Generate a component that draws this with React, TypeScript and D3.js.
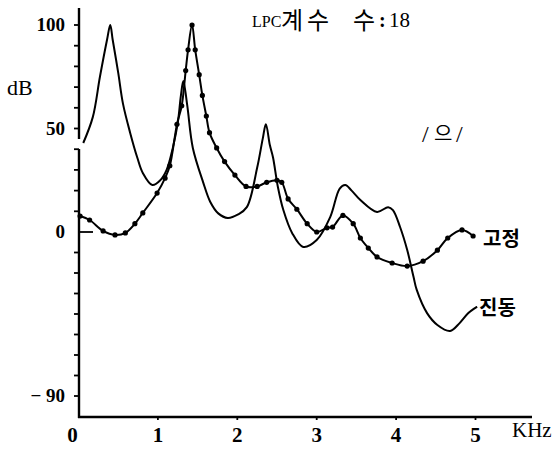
import * as d3 from 'd3'

// frequency (kHz) / level (dB)
const jindongKhz = [0.06, 0.18, 0.27, 0.36, 0.40, 0.43, 0.50, 0.56, 0.65, 0.74, 0.81, 0.93, 1.03, 1.11, 1.19, 1.25, 1.29, 1.32, 1.37, 1.44, 1.57, 1.66, 1.76, 1.88, 2.01, 2.12, 2.25, 2.32, 2.36, 2.41, 2.45, 2.51, 2.58, 2.69, 2.83, 3.00, 3.17, 3.29, 3.36, 3.44, 3.55, 3.76, 3.90, 3.96, 4.05, 4.14, 4.22, 4.26, 4.39, 4.52, 4.68, 4.80, 4.91, 5.02]
const jindongDb = [43, 55.5, 75, 93, 100, 93, 77, 62, 48, 36, 28.5, 22.7, 25, 30, 41, 52.7, 66, 73, 61, 40.6, 24, 14.5, 9, 6.8, 8.5, 12, 31, 45, 52, 42, 36, 22, 10.6, -0.5, -8.2, -4.4, 7.2, 21, 22.7, 20, 15.5, 9.7, 12, 10.6, 2.4, -9.9, -24.7, -31.8, -44.5, -51, -54.3, -50, -44.5, -41]

const gojeongKhz = [0.02, 0.14, 0.31, 0.46, 0.59, 0.71, 0.81, 0.99, 1.09, 1.15, 1.24, 1.30, 1.35, 1.38, 1.43, 1.47, 1.52, 1.56, 1.61, 1.65, 1.74, 1.84, 1.97, 2.11, 2.25, 2.37, 2.50, 2.56, 2.64, 2.75, 2.88, 3.00, 3.13, 3.20, 3.33, 3.46, 3.55, 3.65, 3.76, 3.95, 4.14, 4.34, 4.52, 4.65, 4.83, 4.97]
const gojeongDb = [7.7, 5.8, 0.5, -1.6, -0.5, 4, 9.2, 18.8, 26, 32, 52, 61, 78, 88, 100, 88, 76, 66, 56, 48, 40.6, 34, 27.5, 22, 22, 24, 25, 24, 16, 11, 4, 0, 2, 2.4, 8, 4, -3.3, -8.8, -13.7, -17, -18.7, -16, -10, -3.3, 1, -2.2]

const xTicks = [0, 1, 2, 3, 4, 5]
const yLabelValues = [100, 50, 0, -90]
const yLabelTexts = ['100', '50', '0', '− 90']

const W = 556
const H = 449
const serif = 'Liberation Serif, DejaVu Serif, serif'
const hangul = 'Noto Sans CJK KR, sans-serif'

export default function App() {
  const x = d3.scaleLinear().domain([0, 5]).range([78.5, 475.5])
  // the printed axis is not uniform: 0..100 above, 8 tick steps down to -90
  const y = d3.scaleLinear().domain([-90, 0, 100]).range([396, 232, 25])

  const axisX = 79
  const axisBottom = 417
  const axisRight = 532

  const line = d3.line<[number, number]>()
    .x(d => x(d[0]))
    .y(d => y(d[1]))
    .curve(d3.curveCatmullRom.alpha(0.5))

  const jindong = jindongKhz.map((k, i) => [k, jindongDb[i]] as [number, number])
  const gojeong = gojeongKhz.map((k, i) => [k, gojeongDb[i]] as [number, number])

  const minorUp = d3.range(10, 101, 10)
  const minorDown = d3.range(1, 9).map(i => -i * 90 / 8)

  return (
    <svg width={W} height={H} style={{ position: 'absolute', left: 0, top: 0, background: '#fff' }}>
      {/* axes */}
      <g stroke="#000" strokeWidth={2.4} fill="none">
        <line x1={axisX} x2={axisX} y1={8} y2={139} />
        <line x1={axisX} x2={axisX} y1={149} y2={axisBottom + 1} />
        <line x1={axisX - 1} x2={axisRight} y1={axisBottom} y2={axisBottom} />
        <line x1={axisX} x2={93} y1={y(0)} y2={y(0)} strokeWidth={1.8} />
      </g>
      <g stroke="#000" strokeWidth={1.8}>
        {[...minorUp, ...minorDown].map(v => (
          <line key={'t' + v} x1={axisX - 5} x2={axisX} y1={y(v)} y2={y(v)} />
        ))}
        {xTicks.slice(1).map(v => (
          <line key={'x' + v} x1={x(v)} x2={x(v)} y1={axisBottom} y2={axisBottom + 3} />
        ))}
      </g>

      {/* tick labels */}
      <g style={{ fontFamily: serif }} fontSize={19} fontWeight={700} fill="#000" textAnchor="end">
        {yLabelValues.map((v, i) => (
          <text key={v} x={65} y={y(v) + 6}>{yLabelTexts[i]}</text>
        ))}
      </g>
      <g style={{ fontFamily: serif }} fontSize={21} fontWeight={700} fill="#000" textAnchor="middle">
        {xTicks.map(v => (
          <text key={v} x={x(v) - (v === 0 ? 6 : 0)} y={442}>{v}</text>
        ))}
      </g>
      <text x={512} y={437} style={{ fontFamily: serif }} fontSize={21}>KHz</text>
      <text x={7} y={95} style={{ fontFamily: serif }} fontSize={22}>dB</text>

      {/* title */}
      <text x={252} y={27} style={{ fontFamily: serif }} fontSize={16}>LPC</text>
      <text x={281} y={29} style={{ fontFamily: hangul }} fontSize={24} letterSpacing={4}>계수</text>
      <text x={353} y={29} style={{ fontFamily: hangul }} fontSize={24}>수</text>
      <text x={379} y={27} style={{ fontFamily: serif }} fontSize={20} fontWeight={700}>:</text>
      <text x={389} y={27} style={{ fontFamily: serif }} fontSize={21}>18</text>

      <text x={422} y={142} style={{ fontFamily: serif }} fontSize={24}>/</text>
      <text x={434} y={141} style={{ fontFamily: hangul }} fontSize={20}>으</text>
      <text x={456} y={142} style={{ fontFamily: serif }} fontSize={24}>/</text>

      {/* curves */}
      <path d={line(jindong) ?? ''} fill="none" stroke="#000" strokeWidth={2} />
      <path d={line(gojeong) ?? ''} fill="none" stroke="#000" strokeWidth={2} />
      {gojeong.map((d, i) => (
        <circle key={i} cx={x(d[0])} cy={y(d[1])} r={2.6} fill="#000" />
      ))}

      <text x={483} y={246} style={{ fontFamily: hangul }} fontSize={20} fontWeight={700}>고정</text>
      <text x={479} y={315} style={{ fontFamily: hangul }} fontSize={20} fontWeight={700}>진동</text>
    </svg>
  )
}
